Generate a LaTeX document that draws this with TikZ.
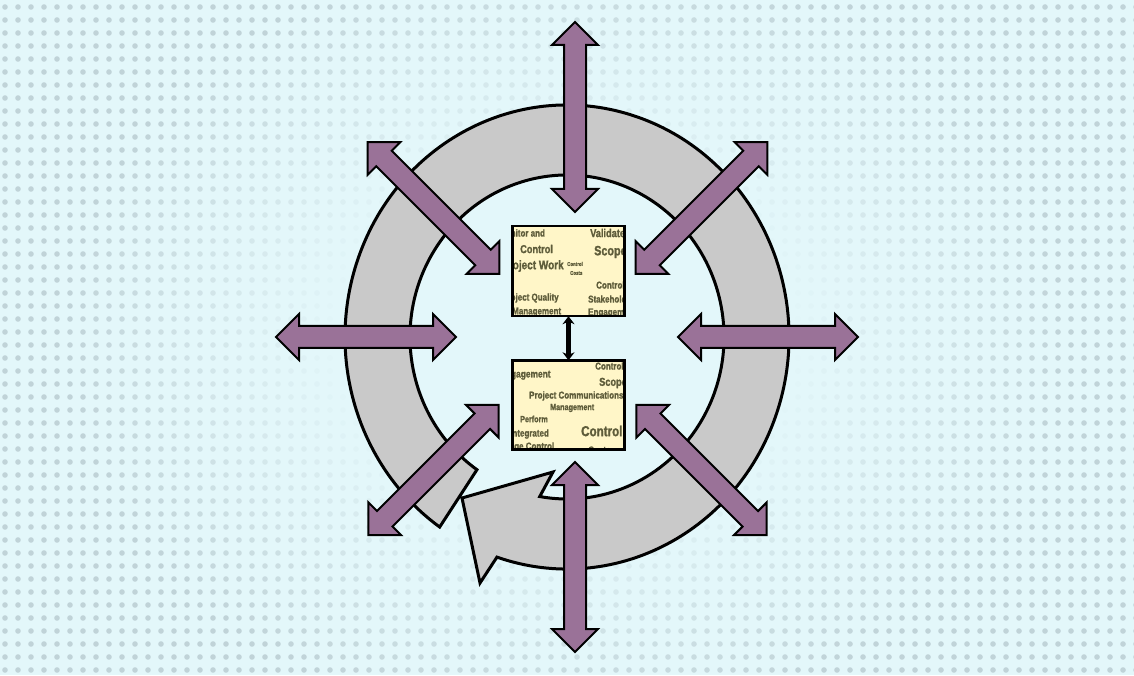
\documentclass[tikz,border=0pt]{standalone}
\usepackage{fontspec}
\newfontfamily\boxfont[FakeStretch=0.8,FakeBold=1.2]{Liberation Sans}
\usetikzlibrary{arrows.meta,calc}
\definecolor{bgc}{HTML}{E3F7FA}
\definecolor{dotc}{HTML}{C0D3D8}
\definecolor{ringc}{HTML}{C9C9C9}
\definecolor{purp}{HTML}{9A7298}
\definecolor{boxc}{HTML}{FFF6C8}
\definecolor{txtc}{HTML}{5E5C3A}
\tikzset{
  purparrow/.style={fill=purp,draw=black,line width=2pt,line join=miter},
  ringstyle/.style={fill=ringc,draw=black,line width=3pt,line join=miter},
  boxfill/.style={fill=boxc,draw=none,minimum width=112pt,minimum height=90pt,inner sep=0pt},
  boxborder/.style={draw=black,line width=2.5pt},
  boxtxt/.style={anchor=west,inner sep=0pt,text=txtc,font=\boxfont\bfseries},
  midarrow/.style={draw=black,line width=4.5pt,{Stealth[length=8pt,width=12pt]}-{Stealth[length=8pt,width=12pt]}}
}
\newcommand\DblArrow[4]{%
  \begin{scope}[shift={(#1,#2)},rotate=#3]
    \filldraw[purparrow] (-#4/2,0) -- ({-#4/2+23},23) -- ({-#4/2+23},11) -- ({#4/2-23},11) -- ({#4/2-23},23) -- (#4/2,0) -- ({#4/2-23},-23) -- ({#4/2-23},-11) -- ({-#4/2+23},-11) -- ({-#4/2+23},-23) -- cycle;
  \end{scope}}
\newcommand\fs[1]{\fontsize{#1}{#1}\selectfont}
\begin{document}
\begin{tikzpicture}[x=1pt,y=1pt]
\useasboundingbox (0,0) rectangle (1134,675);
\fill[bgc] (0,0) rectangle (1134,675);
% dotted background fading toward the centre
\foreach \i in {0,...,87}{
  \foreach \j in {0,...,51}{
    \pgfmathsetmacro\px{5+13*\i}
    \pgfmathsetmacro\py{5+13*\j}
    \pgfmathsetmacro\dd{100*sqrt(((\px-567)/100)^2+((\py-338)*1.3/100)^2)}
    \pgfmathtruncatemacro\ff{max(0,min(100,(\dd-220)/2.8))}
    \ifnum\ff>2 \fill[dotc!\ff!bgc] (\px,\py) circle (2.8); \fi
  }
}
% circular arrow band
\coordinate (C) at (567,338);
\filldraw[ringstyle] ($(C)+(-125:157 and 162)$)
  arc[start angle=-125,end angle=-460,x radius=157,y radius=162]
  -- (553,203) -- (462,177) -- (480,92)
  -- ($(C)+(-108.4:222 and 232)$)
  arc[start angle=-108.4,end angle=235,x radius=222,y radius=232]
  -- cycle;
% purple double arrows
\DblArrow{575}{558}{90}{190}
\DblArrow{575}{118}{90}{190}
\DblArrow{366}{338}{0}{180}
\DblArrow{768}{338}{0}{180}
\DblArrow{433.5}{467}{-45}{186}
\DblArrow{701.5}{467}{45}{186}
\DblArrow{433.5}{205}{45}{184}
\DblArrow{701.5}{205}{-45}{184}
% boxes
\node[boxfill] (top) at (568.5,404) {};
\node[boxfill,minimum height=89pt] (bot) at (568.5,270) {};
\begin{scope}
  \clip (top.south west) rectangle (top.north east);
  \node[boxtxt] (ta) at (499,442) {\fs{10}Monitor and};
  \node[boxtxt] (tb) at (520,426) {\fs{11.5}Control};
  \node[boxtxt] (tc) at (502,409) {\fs{12.5}Project Work};
  \node[boxtxt] (td) at (567,411) {\fs{5.5}Control};
  \node[boxtxt] (te) at (570,402) {\fs{5.5}Costs};
  \node[boxtxt] (tf) at (590,442) {\fs{11.5}Validate};
  \node[boxtxt] (tg) at (594,423) {\fs{13.5}Scope};
  \node[boxtxt] (th) at (596,390) {\fs{10}Control};
  \node[boxtxt] (ti) at (588,376) {\fs{10}Stakeholder};
  \node[boxtxt] (tj) at (588,362) {\fs{10}Engagement};
  \node[boxtxt] (tk) at (502,377) {\fs{10}Project Quality};
  \node[boxtxt] (tl) at (512,363) {\fs{10}Management};
\end{scope}
\draw[boxborder] (top.south west) rectangle (top.north east);
\begin{scope}
  \clip (bot.south west) rectangle (bot.north east);
  \node[boxtxt] (ba) at (500,300) {\fs{10.5}Engagement};
  \node[boxtxt] (bb) at (595,309) {\fs{10}Control};
  \node[boxtxt] (bc) at (599,292) {\fs{11.5}Scope};
  \node[boxtxt] (bd) at (529,279) {\fs{10}Project Communications};
  \node[boxtxt] (be) at (550,267) {\fs{9}Management};
  \node[boxtxt] (bf) at (520,256) {\fs{9}Perform};
  \node[boxtxt] (bg) at (510,241) {\fs{10}Integrated};
  \node[boxtxt] (bh) at (581,244) {\fs{14.5}Control};
  \node[boxtxt] (bi) at (494,228) {\fs{10}Change Control};
  \node[boxtxt] (bj) at (588,225) {\fs{10}Costs};
\end{scope}
\draw[boxborder] (bot.south west) rectangle (bot.north east);
% link between the boxes
\draw[midarrow] (top.south) -- (bot.north);
\end{tikzpicture}
\end{document}
